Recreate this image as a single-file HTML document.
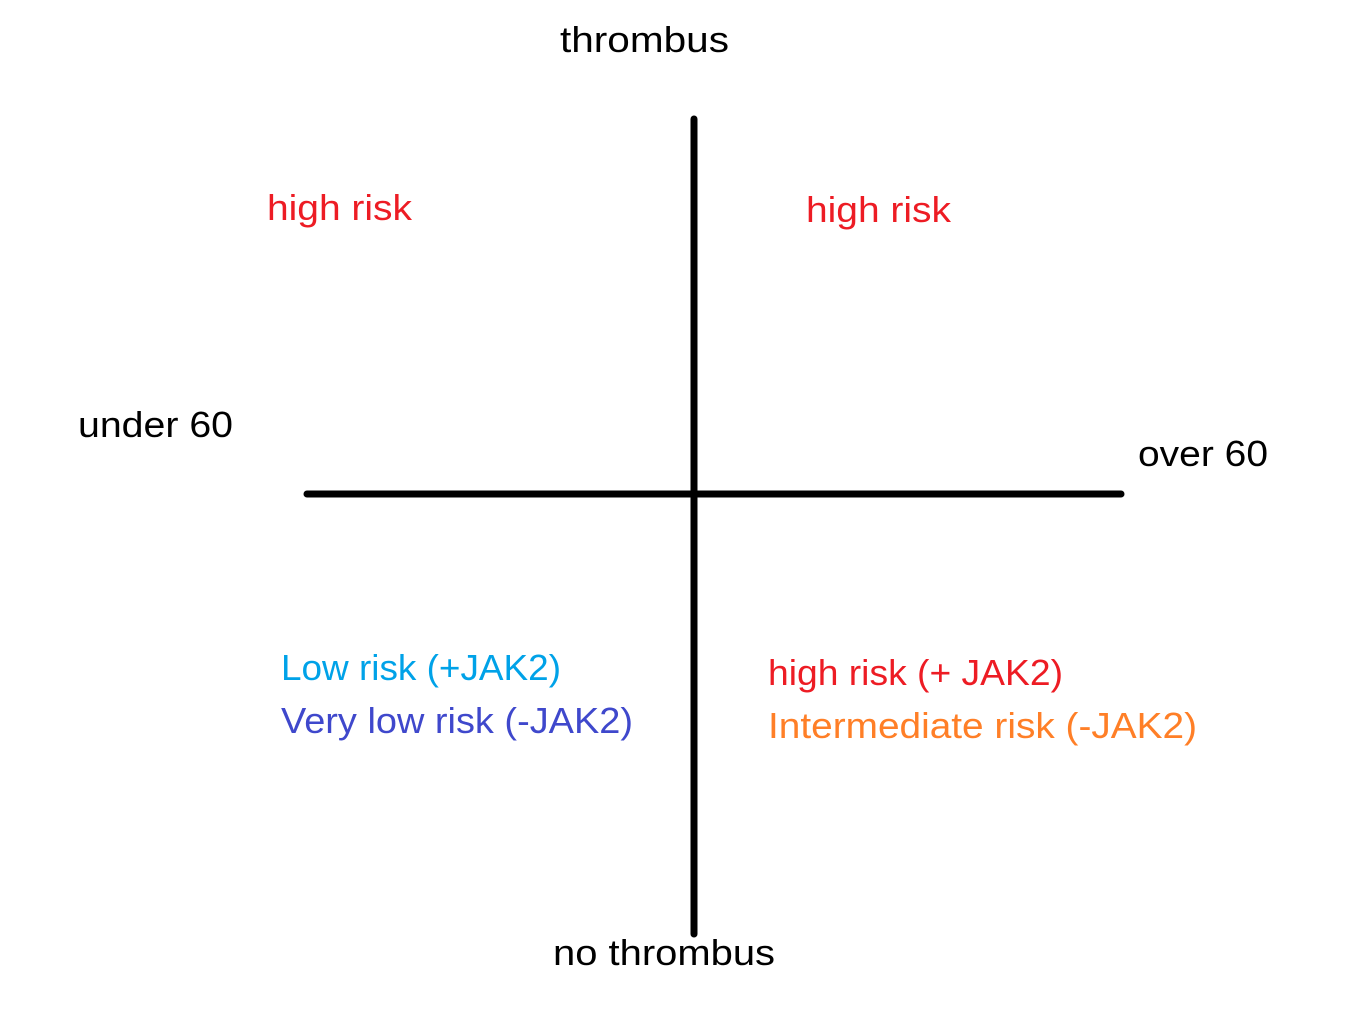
<!DOCTYPE html>
<html>
<head>
<meta charset="utf-8">
<style>
html,body{margin:0;padding:0;background:#fff;}
svg{display:block;}
text{font-family:"Liberation Sans",sans-serif;font-size:36px;}
</style>
</head>
<body>
<svg width="1356" height="1013" viewBox="0 0 1356 1013">
<rect width="1356" height="1013" fill="#fff"/>
<line x1="694" y1="119" x2="694" y2="934" stroke="#000" stroke-width="7" stroke-linecap="round"/>
<line x1="307" y1="494" x2="1121" y2="494" stroke="#000" stroke-width="7" stroke-linecap="round"/>
<text x="560" y="52" textLength="169" lengthAdjust="spacingAndGlyphs" fill="#000">thrombus</text>
<text x="553" y="965" textLength="222" lengthAdjust="spacingAndGlyphs" fill="#000">no thrombus</text>
<text x="78" y="437" textLength="155" lengthAdjust="spacingAndGlyphs" fill="#000">under 60</text>
<text x="1138" y="466" textLength="130" lengthAdjust="spacingAndGlyphs" fill="#000">over 60</text>
<text x="267" y="220" textLength="145" lengthAdjust="spacingAndGlyphs" fill="#ed1c24">high risk</text>
<text x="806" y="222" textLength="145" lengthAdjust="spacingAndGlyphs" fill="#ed1c24">high risk</text>
<text x="281" y="680" textLength="280" lengthAdjust="spacingAndGlyphs" fill="#00a2e8">Low risk (+JAK2)</text>
<text x="281" y="733" textLength="352" lengthAdjust="spacingAndGlyphs" fill="#3f48cc">Very low risk (-JAK2)</text>
<text x="768" y="685" textLength="295" lengthAdjust="spacingAndGlyphs" fill="#ed1c24">high risk (+ JAK2)</text>
<text x="768" y="738" textLength="429" lengthAdjust="spacingAndGlyphs" fill="#ff7f27">Intermediate risk (-JAK2)</text>
</svg>
</body>
</html>
